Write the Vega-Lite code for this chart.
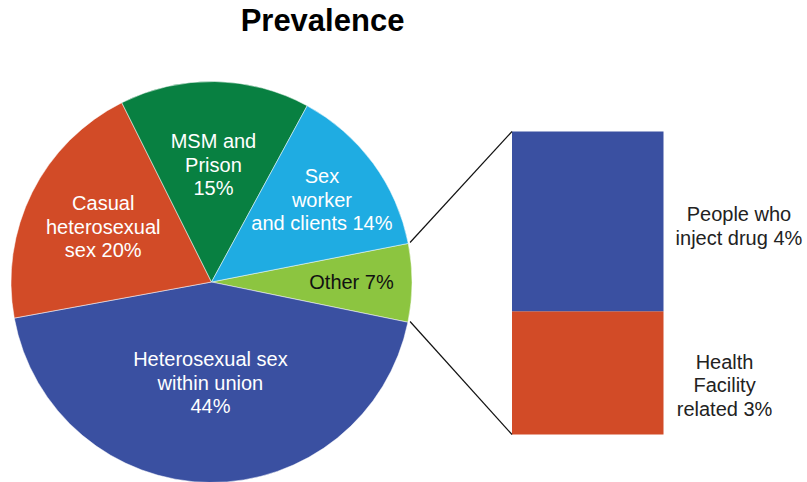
{
  "$schema": "https://vega.github.io/schema/vega-lite/v6.json",
  "padding": {"left": 0, "right": 0, "top": 5, "bottom": 0},
  "background": "white",
  "title": {
    "text": "Prevalence",
    "anchor": "start",
    "align": "center",
    "dx": 322.5,
    "fontSize": 31,
    "font": "Liberation Sans",
    "fontWeight": "bold",
    "color": "#000000",
    "offset": 43
  },
  "spacing": 89,
  "bounds": "flush",
  "resolve": {"scale": {"color": "independent"}},
  "config": {"view": {"stroke": null}},
  "hconcat": [
    {
      "width": 423,
      "height": 402,
      "data": {
        "values": [
          {"category": "Other", "share": 6.3, "label": "Other 7%", "order": 1},
          {"category": "Heterosexual sex within union", "share": 43.9, "label": "Heterosexual sex\nwithin union\n44%", "order": 2},
          {"category": "Casual heterosexual sex", "share": 20.5, "label": "Casual\nheterosexual\nsex 20%", "order": 3},
          {"category": "MSM and Prison", "share": 15.3, "label": "MSM and\nPrison\n15%", "order": 4},
          {"category": "Sex worker and clients", "share": 14.0, "label": "Sex\nworker\nand clients 14%", "order": 5}
        ]
      },
      "layer": [
        {
          "mark": {"type": "arc", "outerRadius": 200.5, "stroke": "#ffffff", "strokeWidth": 0.5},
          "encoding": {
            "theta": {"field": "share", "type": "quantitative", "stack": true, "scale": {"range": [1.3771, 7.6603]}},
            "order": {"field": "order", "type": "quantitative"},
            "color": {
              "field": "category",
              "type": "nominal",
              "scale": {
                "domain": ["Other", "Heterosexual sex within union", "Casual heterosexual sex", "MSM and Prison", "Sex worker and clients"],
                "range": ["#8CC540", "#3A50A1", "#D24B27", "#088041", "#1FACE2"]
              },
              "legend": null
            }
          }
        },
        {
          "mark": {
            "type": "text",
            "font": "Liberation Sans",
            "fontSize": 20,
            "lineBreak": "\n",
            "lineHeight": 23.5,
            "align": "center",
            "baseline": "middle",
            "dy": {"expr": "datum.category === 'Other' ? 0 : -23.5"},
            "radius": {"expr": "datum.category === 'Other' ? 140 : datum.category === 'Heterosexual sex within union' ? 102 : datum.category === 'Casual heterosexual sex' ? 121 : datum.category === 'MSM and Prison' ? 116.5 : 137"}
          },
          "encoding": {
            "theta": {"field": "share", "type": "quantitative", "stack": true, "scale": {"range": [1.3771, 7.6603]}},
            "order": {"field": "order", "type": "quantitative"},
            "text": {"field": "label"},
            "color": {"condition": {"test": "datum.category === 'Other'", "value": "#111111"}, "value": "#ffffff"}
          }
        }
      ]
    },
    {
      "width": 151.5,
      "height": 402,
      "data": {
        "values": [
          {"category": "Health Facility related", "share": 2.85, "label": "Health\nFacility\nrelated 3%", "order": 1},
          {"category": "People who inject drug", "share": 4.15, "label": "People who\ninject drug 4%", "order": 2}
        ]
      },
      "transform": [
        {"stack": "share", "groupby": [], "sort": [{"field": "order", "order": "ascending"}], "as": ["s0", "s1"]}
      ],
      "layer": [
        {
          "mark": {"type": "rect"},
          "encoding": {
            "x": {"datum": 0, "type": "quantitative", "scale": {"domain": [0, 1], "nice": false, "zero": false}, "axis": null},
            "x2": {"datum": 1},
            "y": {"field": "s0", "type": "quantitative", "scale": {"domain": [-1.1205, 8.1667], "nice": false, "zero": false}, "axis": null},
            "y2": {"field": "s1"},
            "color": {
              "field": "category",
              "type": "nominal",
              "scale": {"domain": ["People who inject drug", "Health Facility related"], "range": ["#3A50A1", "#D24B27"]},
              "legend": null
            }
          }
        },
        {
          "data": {"values": [{"edge": "upper"}]},
          "mark": {"type": "rule", "color": "#111111", "strokeWidth": 1.2},
          "encoding": {
            "x": {"datum": -0.673, "type": "quantitative", "scale": {"domain": [0, 1], "nice": false, "zero": false}, "axis": null},
            "y": {"datum": 4.436, "type": "quantitative", "scale": {"domain": [-1.1205, 8.1667], "nice": false, "zero": false}, "axis": null},
            "x2": {"datum": 0},
            "y2": {"datum": 7}
          }
        },
        {
          "data": {"values": [{"edge": "lower"}]},
          "mark": {"type": "rule", "color": "#111111", "strokeWidth": 1.2},
          "encoding": {
            "x": {"datum": -0.673, "type": "quantitative", "scale": {"domain": [0, 1], "nice": false, "zero": false}, "axis": null},
            "y": {"datum": 2.611, "type": "quantitative", "scale": {"domain": [-1.1205, 8.1667], "nice": false, "zero": false}, "axis": null},
            "x2": {"datum": 0},
            "y2": {"datum": 0}
          }
        },
        {
          "transform": [{"filter": "datum.category === 'People who inject drug'"}],
          "mark": {"type": "text", "font": "Liberation Sans", "fontSize": 20, "lineBreak": "\n", "lineHeight": 23.5, "align": "center", "baseline": "middle", "color": "#222222", "dy": -11.75},
          "encoding": {
            "x": {"datum": 1.498, "type": "quantitative", "scale": {"domain": [0, 1], "nice": false, "zero": false}, "axis": null},
            "y": {"datum": 4.789, "type": "quantitative", "scale": {"domain": [-1.1205, 8.1667], "nice": false, "zero": false}, "axis": null},
            "text": {"field": "label"}
          }
        },
        {
          "transform": [{"filter": "datum.category === 'Health Facility related'"}],
          "mark": {"type": "text", "font": "Liberation Sans", "fontSize": 20, "lineBreak": "\n", "lineHeight": 23.5, "align": "center", "baseline": "middle", "color": "#222222", "dy": -23.5},
          "encoding": {
            "x": {"datum": 1.403, "type": "quantitative", "scale": {"domain": [0, 1], "nice": false, "zero": false}, "axis": null},
            "y": {"datum": 1.109, "type": "quantitative", "scale": {"domain": [-1.1205, 8.1667], "nice": false, "zero": false}, "axis": null},
            "text": {"field": "label"}
          }
        }
      ]
    }
  ]
}
